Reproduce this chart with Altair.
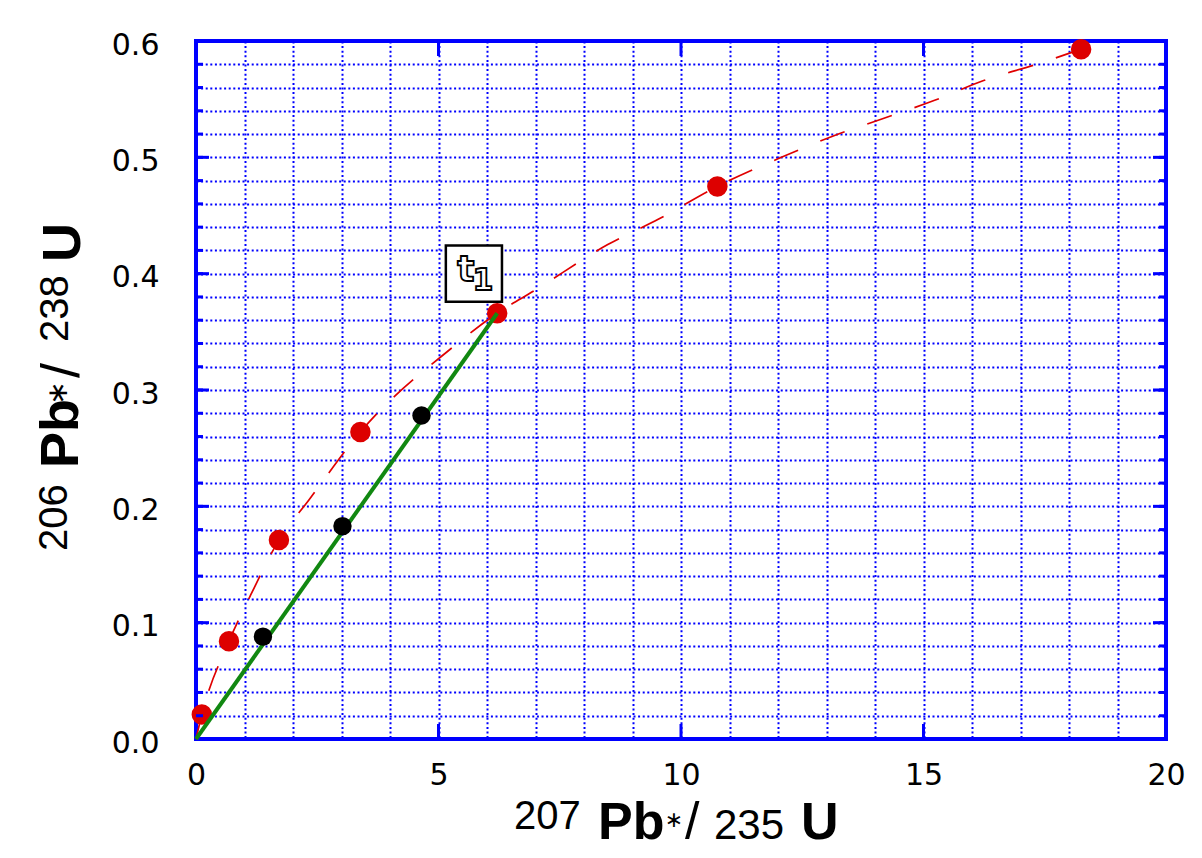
import altair as alt
import pandas as pd

# Concordia reference points (red dots)
conc_x = [0.12, 0.68, 1.71, 3.39, 6.21, 10.75, 18.25]
conc_y = [0.021, 0.084, 0.171, 0.264, 0.366, 0.475, 0.593]

# Concordia curve (dashed red)
curve_x = [0, 0.12, 0.68, 1.13, 1.71, 2.32, 3.39, 5.30, 6.21, 7.00, 8.49, 9.54,
           10.75, 12.07, 13.18, 14.14, 15.23, 16.24, 17.33, 18.25]
curve_y = [0, 0.021, 0.084, 0.124, 0.171, 0.205, 0.264, 0.337, 0.366, 0.386, 0.425, 0.447,
           0.475, 0.500, 0.519, 0.533, 0.549, 0.566, 0.580, 0.593]

# Discordia line (green)
disc_x = [0, 6.21]
disc_y = [0, 0.366]

# Discordant samples (black dots)
samp_x = [1.38, 3.02, 4.65]
samp_y = [0.088, 0.183, 0.278]

# Label t1
label_x = [5.73]
label_y = [0.400]

# Axis values
x_grid_values = list(range(0, 21))
y_grid_values = [round(i * 0.02, 2) for i in range(31)]
x_major_ticks = [5, 10, 15]
y_major_ticks = [0.1, 0.2, 0.3, 0.4, 0.5]
y_minor_ticks = y_grid_values[1:-1]

W, H = 970, 698
BLUE = "#0000FF"
FONT = "DejaVu Sans"
TFONT = "Liberation Sans"

xs = alt.Scale(domain=[0, 20], nice=False, zero=False)
ys = alt.Scale(domain=[0, 0.6], nice=False, zero=False)

x_axis = alt.Axis(values=x_grid_values, format="d",
                  labelExpr="datum.value % 5 == 0 ? datum.label : ''",
                  grid=True, gridColor=BLUE, gridDash=[2, 2.6], gridWidth=2, gridOpacity=1,
                  ticks=False, tickSize=0, domain=False, labelOverlap=False, labelFlush=False,
                  labelFont=FONT, labelFontSize=30, labelColor="black", labelPadding=21,
                  title=None)
y_axis = alt.Axis(values=y_grid_values, format=".1f",
                  labelExpr="abs(datum.value*10 - round(datum.value*10)) < 0.001 ? datum.label : ''",
                  grid=True, gridColor=BLUE, gridDash=[2, 2.6], gridWidth=2, gridOpacity=1,
                  ticks=False, tickSize=0, domain=False, labelOverlap=False, labelFlush=False,
                  labelFont=FONT, labelFontSize=30, labelColor="black", labelPadding=37,
                  labelOffset=4, title=None)


def X(f):
    return alt.X(f, type="quantitative", scale=xs, axis=x_axis)


def Y(f):
    return alt.Y(f, type="quantitative", scale=ys, axis=y_axis)


curve_df = pd.DataFrame({"x": curve_x, "y": curve_y, "o": list(range(len(curve_x)))})
conc_df = pd.DataFrame({"x": conc_x, "y": conc_y})
disc_df = pd.DataFrame({"x": disc_x, "y": disc_y})
samp_df = pd.DataFrame({"x": samp_x, "y": samp_y})
label_df = pd.DataFrame({"x": label_x, "y": label_y})

curve = alt.Chart(curve_df).mark_line(
    color="#E00000", strokeWidth=1.7, strokeDash=[26, 24], interpolate="monotone"
).encode(x=X("x"), y=Y("y"), order="o:Q")

red_pts = alt.Chart(conc_df).mark_circle(size=420, color="#DD0000", opacity=1).encode(
    x=X("x"), y=Y("y"))

green = alt.Chart(disc_df).mark_line(color="#118811", strokeWidth=4).encode(
    x=X("x"), y=Y("y"))

black_pts = alt.Chart(samp_df).mark_circle(size=340, color="black", opacity=1).encode(
    x=X("x"), y=Y("y"))

box = alt.Chart(label_df).mark_point(
    shape="square", size=3150, filled=True, fill="white", stroke="black",
    strokeWidth=2.5, opacity=1, fillOpacity=1
).encode(x=X("x"), y=Y("y"))

t_txt = alt.Chart(label_df).mark_text(
    text="t", font=FONT, fontSize=36, fontWeight="bold", fill="white", stroke="black",
    strokeWidth=1.8, dx=-8, dy=-4, align="center", baseline="middle"
).encode(x=X("x"), y=Y("y"))
one_txt = alt.Chart(label_df).mark_text(
    text="1", font=FONT, fontSize=30, fontWeight="bold", fill="white", stroke="black",
    strokeWidth=1.8, dx=9, dy=7, align="center", baseline="middle"
).encode(x=X("x"), y=Y("y"))

# inward ticks
ymaj_df = pd.DataFrame({"v": y_major_ticks})
ymin_df = pd.DataFrame({"v": y_minor_ticks})
xmaj_df = pd.DataFrame({"v": x_major_ticks})

tick_layers = [
    alt.Chart(ymin_df).mark_rule(color=BLUE, strokeWidth=3).encode(
        y=Y("v"), x=alt.value(0), x2=alt.value(7)),
    alt.Chart(ymin_df).mark_rule(color=BLUE, strokeWidth=3).encode(
        y=Y("v"), x=alt.value(W), x2=alt.value(W - 7)),
    alt.Chart(ymaj_df).mark_rule(color=BLUE, strokeWidth=3).encode(
        y=Y("v"), x=alt.value(0), x2=alt.value(13)),
    alt.Chart(ymaj_df).mark_rule(color=BLUE, strokeWidth=3).encode(
        y=Y("v"), x=alt.value(W), x2=alt.value(W - 13)),
    alt.Chart(xmaj_df).mark_rule(color=BLUE, strokeWidth=3).encode(
        x=X("v"), y=alt.value(H), y2=alt.value(H - 15)),
    alt.Chart(xmaj_df).mark_rule(color=BLUE, strokeWidth=3).encode(
        x=X("v"), y=alt.value(0), y2=alt.value(15)),
]


def seg(text, x, y, size, bold=False, angle=0, align="left", baseline="alphabetic", font=TFONT):
    return alt.Chart(alt.Data(values=[{}])).mark_text(
        text=text, font=font, fontSize=size, fontWeight="bold" if bold else "normal",
        angle=angle, align=align, baseline=baseline, color="black"
    ).encode(x=alt.value(x), y=alt.value(y))


# x axis title: 207Pb*/235U
x_title = [
    seg("207", 318, 788, 40),
    seg("Pb", 402, 798, 52, bold=True),
    seg("\u2217", 478, 779, 22, align="center", baseline="middle", font=FONT),
    seg("/", 489, 798, 52),
    seg("235", 518, 798, 42),
    seg("U", 605, 798, 52, bold=True),
]

# y axis title: 206Pb*/238U (rotated)
y_title = [
    seg("206", -129, 510, 40, angle=270),
    seg("Pb", -118, 427, 54, bold=True, angle=270),
    seg("\u2217", -137, 352, 28, angle=270, align="center", baseline="middle", font=FONT),
    seg("/", -117, 337, 54, angle=270),
    seg("238", -128, 301, 40, angle=270),
    seg("U", -116, 221, 54, bold=True, angle=270),
]

chart = alt.layer(
    curve, red_pts, green, black_pts, box, t_txt, one_txt,
    *tick_layers, *x_title, *y_title
).properties(
    width=W, height=H,
    padding={"left": 188, "top": 33, "right": 28, "bottom": 111},
    autosize=alt.AutoSizeParams(type="none"),
    background="white",
).configure_view(
    stroke=BLUE, strokeWidth=4
)

chart.save("out.html", embed_options={"renderer": "svg", "actions": False})
